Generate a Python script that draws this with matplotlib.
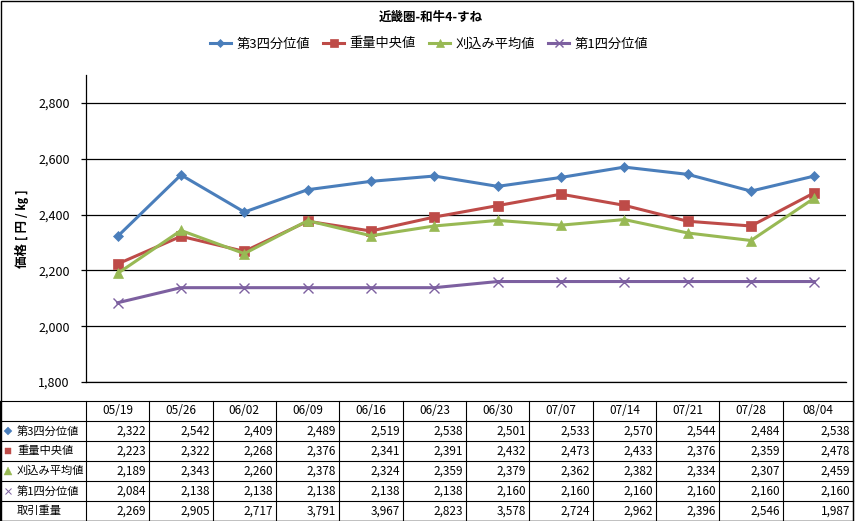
import matplotlib
matplotlib.use('Agg')
import matplotlib.pyplot as plt
from matplotlib.patches import Rectangle
from matplotlib.ticker import FuncFormatter

plt.rcParams['font.family'] = ['Noto Sans CJK JP', 'DejaVu Sans']

title = '近畿圏-和牛4-すね'
ylabel = '価格 [ 円 / ㎏ ]'
dates = ['05/19', '05/26', '06/02', '06/09', '06/16', '06/23',
         '06/30', '07/07', '07/14', '07/21', '07/28', '08/04']
q3 = [2322, 2542, 2409, 2489, 2519, 2538, 2501, 2533, 2570, 2544, 2484, 2538]
median = [2223, 2322, 2268, 2376, 2341, 2391, 2432, 2473, 2433, 2376, 2359, 2478]
trimmed = [2189, 2343, 2260, 2378, 2324, 2359, 2379, 2362, 2382, 2334, 2307, 2459]
q1 = [2084, 2138, 2138, 2138, 2138, 2138, 2160, 2160, 2160, 2160, 2160, 2160]
volume = [2269, 2905, 2717, 3791, 3967, 2823, 3578, 2724, 2962, 2396, 2546, 1987]
series_names = ['第3四分位値', '重量中央値', '刈込み平均値', '第1四分位値']
volume_name = '取引重量'
yticks = [1800, 2000, 2200, 2400, 2600, 2800]

colors = ['#4A7EBB', '#BE4B48', '#98B954', '#7D60A0']
markers = ['D', 's', '^', 'x']
msizes = [5, 6.5, 7, 7]

W, H = 857, 521
fig = plt.figure(figsize=(W / 100, H / 100), dpi=100)


def fx(p):
    return p / W


def fy(p):
    return 1 - p / H


# background axes in pixel coordinates for table / border
axT = fig.add_axes([0, 0, 1, 1])
axT.set_xlim(0, W)
axT.set_ylim(H, 0)
axT.axis('off')
axT.add_patch(Rectangle((0.5, 0.5), 853, 520, fill=False, edgecolor='black', lw=1))

# chart
ax = fig.add_axes([fx(86), fy(382), fx(846) - fx(86), fy(75) - fy(382)])
ax.patch.set_alpha(0)
ax.set_xlim(-0.5, len(dates) - 0.5)
ax.set_ylim(1800, 2900)
ax.set_yticks(yticks)
ax.yaxis.set_major_formatter(FuncFormatter(lambda v, p: f'{int(v):,}'))
ax.set_xticks([])
for s in ['top', 'right']:
    ax.spines[s].set_visible(False)
for s in ['left', 'bottom']:
    ax.spines[s].set_color('black')
    ax.spines[s].set_linewidth(0.9)
ax.grid(axis='y', color='black', lw=0.9)
ax.set_axisbelow(True)
ax.tick_params(axis='y', length=3.6, width=0.9, direction='out', labelsize=9, pad=8)

x = list(range(len(dates)))
all_series = [q3, median, trimmed, q1]
handles = []
for vals, c, m, ms, name in zip(all_series, colors, markers, msizes, series_names):
    (ln,) = ax.plot(x, vals, color=c, lw=2.2, marker=m, markersize=ms,
                    markerfacecolor=c, markeredgecolor=c, markeredgewidth=1.0 if m == 'x' else 0.5,
                    label=name, clip_on=False, zorder=3)
    handles.append(ln)

fig.text(fx(431), fy(17), title, ha='center', va='center', fontsize=9, fontweight='bold')
fig.text(fx(22), fy(229), ylabel, ha='center', va='center', rotation=90, fontsize=9,
         fontweight='bold')
fig.legend(handles=handles, loc='center', bbox_to_anchor=(fx(429), fy(44)), ncol=4,
           frameon=False, fontsize=9.5, handlelength=1.6, columnspacing=1.0, handletextpad=0.4,
           markerscale=0.8)

# table
w = (846 - 86) / len(dates)
xs = [0, 86] + [86 + w * k for k in range(1, len(dates))] + [853]
ys = [401, 421, 441, 461, 481, 501, 520.5]
for yy in ys:
    axT.plot([0, 853], [yy, yy], color='black', lw=0.8)
for xx in xs:
    axT.plot([xx, xx], [ys[0], ys[-1]], color='black', lw=0.8)

for i, d in enumerate(dates):
    cx = (xs[i + 1] + xs[i + 2]) / 2
    axT.text(cx, (ys[0] + ys[1]) / 2, d, ha='center', va='center', fontsize=8.5)

rows = all_series + [volume]
row_names = series_names + [volume_name]
for r, (vals, name) in enumerate(zip(rows, row_names)):
    cy = (ys[r + 1] + ys[r + 2]) / 2
    axT.text(17, cy, name, ha='left', va='center', fontsize=8.1)
    if r < 4:
        axT.plot([8], [cy], marker=markers[r], color=colors[r], markersize=[4.5, 5, 5.5, 4.5][r],
                 markeredgewidth=0.7 if markers[r] == 'x' else 0.3, linestyle='none')
    for i, v in enumerate(vals):
        axT.text(xs[i + 2] - 3, cy, f'{v:,}', ha='right', va='center', fontsize=8.5)

fig.savefig('out.png', dpi=100)
